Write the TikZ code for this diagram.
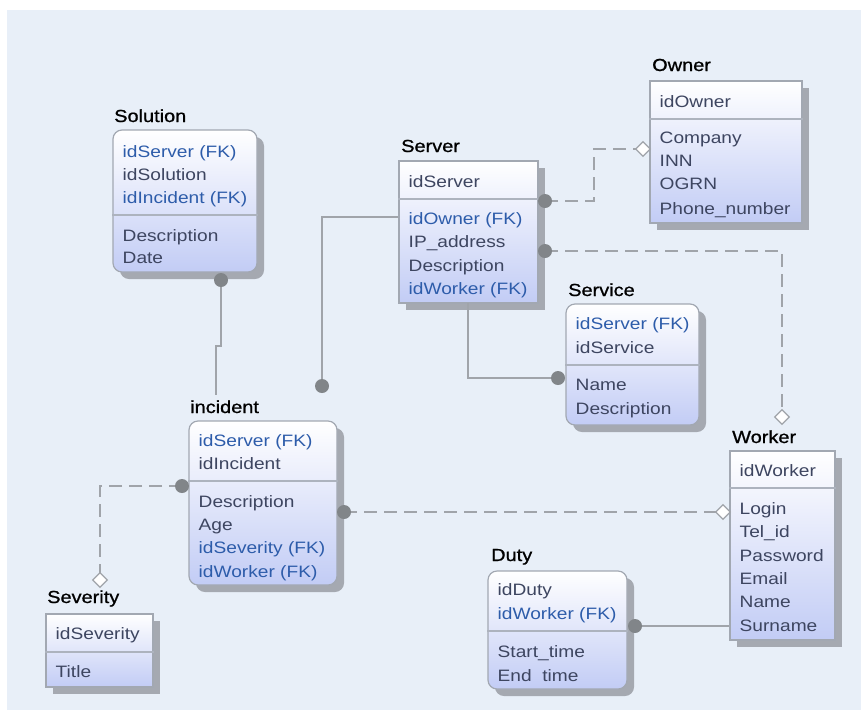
\documentclass[tikz,border=0pt]{standalone}
\usepackage{fontspec}
\setmainfont{Liberation Sans}[FakeStretch=1.16]
\newfontfamily\entitytitlefont{Liberation Sans}[FakeStretch=1.14,FakeBold=0.9]
\usetikzlibrary{shadows,shapes.geometric}

\definecolor{bgblue}{HTML}{E8EFF8}
\definecolor{boxedge}{HTML}{A2A8B2}
\definecolor{boxbottom}{HTML}{C2CCF5}
\definecolor{shadowgray}{HTML}{A5A9B1}
\definecolor{divgray}{HTML}{ADB3BE}
\definecolor{linkgray}{HTML}{A0A4AA}
\definecolor{dotgray}{HTML}{818589}
\definecolor{fkblue}{HTML}{2D5CAA}
\definecolor{attrgray}{HTML}{3D4560}

\tikzset{
  entitybox/.style={draw=boxedge, line width=1.2pt, top color=white, bottom color=boxbottom,
    inner sep=0pt, drop shadow={shadow xshift=7pt, shadow yshift=-7pt, fill=shadowgray, opacity=1}},
  roundbox/.style={entitybox, rounded corners=9pt},
  squarebox/.style={entitybox},
  divider/.style={draw=divgray, line width=1.2pt},
  attr/.style={anchor=base west, inner sep=0pt, text=attrgray, font=\fontsize{16.5}{20}\selectfont},
  fk/.style={attr, text=fkblue},
  title/.style={anchor=base west, inner sep=0pt, text=black, font=\entitytitlefont\fontsize{17.5}{20}\selectfont},
  solidlink/.style={draw=linkgray, line width=1.8pt},
  dashlink/.style={solidlink, dash pattern=on 13pt off 7pt},
  enddot/.style={circle, fill=dotgray, minimum size=14pt, inner sep=0pt},
  enddiamond/.style={diamond, draw=linkgray, fill=white, line width=1.2pt,
    minimum width=15pt, minimum height=15pt, inner sep=0pt},
}

% entity box: name, x1, y1, x2, y2, divider y, box style
\newcommand\erEntity[7]{%
  \node[#7, minimum width={(#4-#2)*1pt}, minimum height={(#5-#3)*1pt}]
    (#1) at ({(#2+#4)/2},{(#3+#5)/2}) {};
  \draw[divider] (#1.west |- 0,#6) -- (#1.east |- 0,#6);
}

\begin{document}
\begin{tikzpicture}[x=1pt,y=-1pt]
\useasboundingbox (0,0) rectangle (861,710);
\fill[bgblue] (7,10) rectangle (861,710);

% ---------- entities ----------
\erEntity{solution}{113}{130}{257}{272}{215}{roundbox}
\node[title] (solT) at (114,122) {Solution};
\node[fk]   (sol1) at (122.5,157) {idServer (FK)};
\node[attr] (sol2) at (122.5,180) {idSolution};
\node[fk]   (sol3) at (122.5,203) {idIncident (FK)};
\node[attr] (sol4) at (122.5,241) {Description};
\node[attr] (sol5) at (122.5,263) {Date};

\erEntity{server}{399}{161}{538}{303}{199}{squarebox}
\node[title] (srvT) at (401,152) {Server};
\node[attr] (srv1) at (408.5,187) {idServer};
\node[fk]   (srv2) at (408.5,224) {idOwner (FK)};
\node[attr] (srv3) at (408.5,247) {IP\_address};
\node[attr] (srv4) at (408.5,271) {Description};
\node[fk]   (srv5) at (408.5,294) {idWorker (FK)};

\erEntity{owner}{650}{81}{802}{223}{119}{squarebox}
\node[title] (ownT) at (652,71) {Owner};
\node[attr] (own1) at (659.5,107) {idOwner};
\node[attr] (own2) at (659.5,143) {Company};
\node[attr] (own3) at (659.5,166) {INN};
\node[attr] (own4) at (659.5,189) {OGRN};
\node[attr] (own5) at (659.5,214) {Phone\_number};

\erEntity{service}{566}{304}{699}{425}{365}{roundbox}
\node[title] (svcT) at (568,296) {Service};
\node[fk]   (svc1) at (575.5,329) {idServer (FK)};
\node[attr] (svc2) at (575.5,353) {idService};
\node[attr] (svc3) at (575.5,390) {Name};
\node[attr] (svc4) at (575.5,414) {Description};

\erEntity{incident}{189}{421}{337}{585}{481}{roundbox}
\node[title] (incT) at (190,413) {incident};
\node[fk]   (inc1) at (198.5,446) {idServer (FK)};
\node[attr] (inc2) at (198.5,469) {idIncident};
\node[attr] (inc3) at (198.5,507) {Description};
\node[attr] (inc4) at (198.5,530) {Age};
\node[fk]   (inc5) at (198.5,553) {idSeverity (FK)};
\node[fk]   (inc6) at (198.5,577) {idWorker (FK)};

\erEntity{worker}{730}{451}{835}{640}{488}{squarebox}
\node[title] (wrkT) at (732,443) {Worker};
\node[attr] (wrk1) at (739.5,476) {idWorker};
\node[attr] (wrk2) at (739.5,514) {Login};
\node[attr] (wrk3) at (739.5,537) {Tel\_id};
\node[attr] (wrk4) at (739.5,561) {Password};
\node[attr] (wrk5) at (739.5,584) {Email};
\node[attr] (wrk6) at (739.5,607) {Name};
\node[attr] (wrk7) at (739.5,631) {Surname};

\erEntity{duty}{488}{571}{627}{689}{631}{roundbox}
\node[title] (dutT) at (491,561) {Duty};
\node[attr] (dut1) at (497.5,595) {idDuty};
\node[fk]   (dut2) at (497.5,619) {idWorker (FK)};
\node[attr] (dut3) at (497.5,657) {Start\_time};
\node[attr] (dut4) at (497.5,681) {End~~time};

\erEntity{severity}{46}{614}{153}{687}{652}{squarebox}
\node[title] (sevT) at (47,603) {Severity};
\node[attr] (sev1) at (55.5,639) {idSeverity};
\node[attr] (sev2) at (55.5,677) {Title};

% ---------- relationship end points ----------
\coordinate (solDot)    at (221,280);
\coordinate (solEnd)    at (216,395);
\coordinate (srvIncBeg) at (server.west |- 0,217);
\coordinate (incDot)    at (322,386);
\coordinate (srvSvcBeg) at (468,303);
\coordinate (svcDot)    at (558,378);
\coordinate (srvOwnDot) at (545,201);
\coordinate (ownDia)    at (643,149);
\coordinate (srvWrkDot) at (545,251);
\coordinate (wrkTopDia) at (782,417);
\coordinate (incWrkDot) at (344,512);
\coordinate (wrkDia)    at (723,512);
\coordinate (incSevDot) at (182,486);
\coordinate (sevDia)    at (100,580);
\coordinate (dutDot)    at (635,626);
\coordinate (dutEnd)    at (worker.west |- 0,626);

% ---------- relationships ----------
\draw[solidlink] (solDot) -- (221,346) -- (216,346) -- (solEnd);
\draw[solidlink] (srvIncBeg) -| (incDot);
\draw[solidlink] (srvSvcBeg) |- (svcDot);
\draw[dashlink]  (srvOwnDot) -- (594,201) -- (594,149) -- (ownDia);
\draw[dashlink]  (srvWrkDot) -| (wrkTopDia);
\draw[dashlink]  (incWrkDot) -- (wrkDia);
\draw[dashlink]  (incSevDot) -| (sevDia);
\draw[solidlink] (dutDot) -- (dutEnd);

% ---------- relationship ends ----------
\node[enddot] (solDotN)    at (solDot) {};
\node[enddot] (incDotN)    at (incDot) {};
\node[enddot] (svcDotN)    at (svcDot) {};
\node[enddot] (srvOwnDotN) at (srvOwnDot) {};
\node[enddot] (srvWrkDotN) at (srvWrkDot) {};
\node[enddot] (incWrkDotN) at (incWrkDot) {};
\node[enddot] (incSevDotN) at (incSevDot) {};
\node[enddot] (dutDotN)    at (dutDot) {};
\node[enddiamond] (ownDiaN)    at (ownDia) {};
\node[enddiamond] (wrkTopDiaN) at (wrkTopDia) {};
\node[enddiamond] (wrkDiaN)    at (wrkDia) {};
\node[enddiamond] (sevDiaN)    at (sevDia) {};
\end{tikzpicture}
\end{document}
